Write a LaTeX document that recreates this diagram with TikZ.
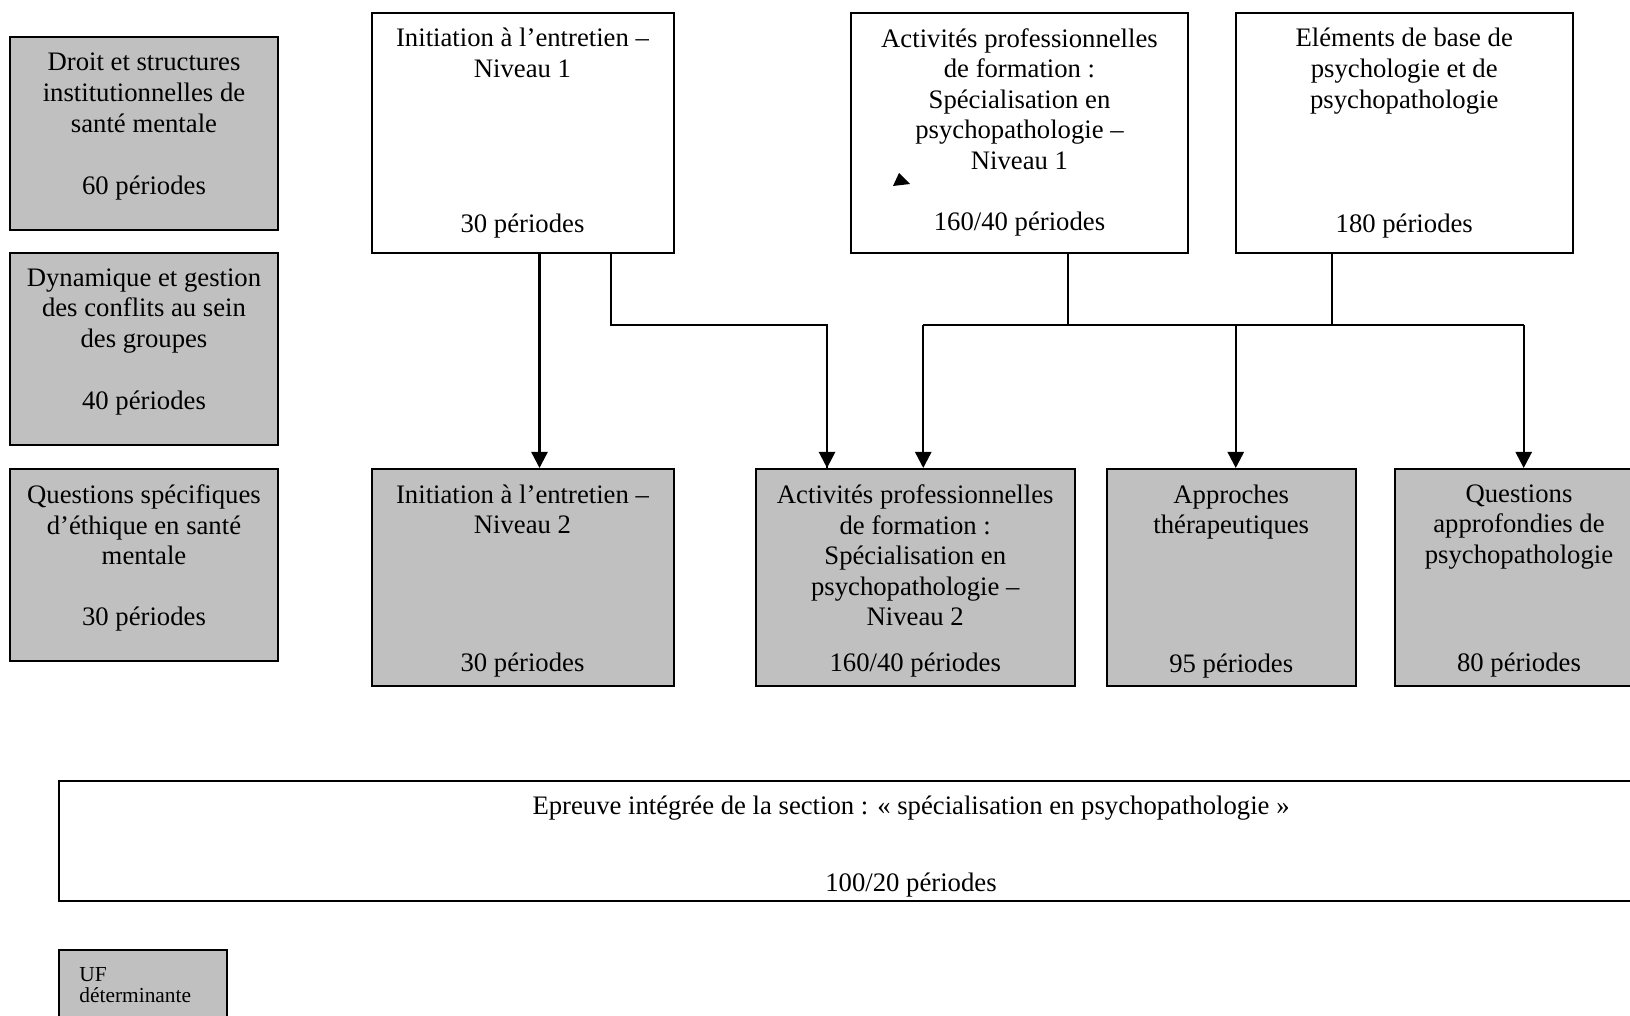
\documentclass[tikz,border=0pt]{standalone}
\usepackage{fontspec}
\setmainfont{Liberation Serif}
\usetikzlibrary{arrows.meta}
\definecolor{ufgris}{RGB}{192,192,192}
\tikzset{
 uf/.style={draw,line width=1pt,inner sep=0pt},
 ufd/.style={uf,fill=ufgris},
 txt/.style={align=center,inner sep=0pt},
 titre/.style={txt,anchor=north},
 lien/.style={line width=.9pt},
}
\begin{document}
\begin{tikzpicture}[x=.5pt,y=-.5pt,font=\fontsize{13.35}{15.3}\selectfont,>={Triangle[length=8pt,width=8pt]}]
 \useasboundingbox (0,0) rectangle (1630,1016);
 \node[ufd,minimum width=134pt,minimum height=96.5pt] (droit) at (144,133.5) {};
 \node[titre] (droit-t) at (144,52.9) {Droit et structures\\institutionnelles de\\santé mentale};
 \node[txt] (droit-p) at (144,188) {60 périodes};
 \node[ufd,minimum width=134pt,minimum height=96pt] (dyn) at (144,349) {};
 \node[titre] (dyn-t) at (144,268) {Dynamique et gestion\\des conflits au sein\\des groupes};
 \node[txt] (dyn-p) at (144,403) {40 périodes};
 \node[ufd,minimum width=134pt,minimum height=96pt] (ethique) at (144,565) {};
 \node[titre] (ethique-t) at (144,484.3) {Questions spécifiques\\d’éthique en santé\\mentale};
 \node[txt] (ethique-p) at (144,619) {30 périodes};

 \node[uf,minimum width=151pt,minimum height=120pt] (init1) at (522.5,133) {};
 \node[titre] (init1-t) at (522.5,27.9) {Initiation à l’entretien --\\Niveau 1};
 \node[txt] (init1-p) at (522.5,226.5) {30 périodes};
 \node[uf,minimum width=168.5pt,minimum height=120pt] (act1) at (1019.5,133) {};
 \node[titre] (act1-t) at (1019.5,27.9) {Activités professionnelles\\de formation :\\Spécialisation en\\psychopathologie --\\Niveau 1};
 \node[txt] (act1-p) at (1019.5,224.5) {160/40 périodes};
 \node[uf,minimum width=168.25pt,minimum height=120pt] (elem) at (1404.25,133) {};
 \node[titre] (elem-t) at (1404.25,27.9) {Eléments de base de\\psychologie et de\\psychopathologie};
 \node[txt] (elem-p) at (1404.25,226.5) {180 périodes};
 \fill (893,186) -- (910,184) -- (899,173) -- cycle;

 \node[ufd,minimum width=151pt,minimum height=108.5pt] (init2) at (522.5,577.5) {};
 \node[titre] (init2-t) at (522.5,484.3) {Initiation à l’entretien --\\Niveau 2};
 \node[txt] (init2-p) at (522.5,665) {30 périodes};
 \node[ufd,minimum width=159.75pt,minimum height=108.5pt] (act2) at (915.25,577.5) {};
 \node[titre] (act2-t) at (915.25,484.3) {Activités professionnelles\\de formation :\\Spécialisation en\\psychopathologie --\\Niveau 2};
 \node[txt] (act2-p) at (915.25,665) {160/40 périodes};
 \node[ufd,minimum width=124.25pt,minimum height=108.5pt] (appr) at (1231.25,577.5) {};
 \node[titre] (appr-t) at (1231.25,484.3) {Approches\\thérapeutiques};
 \node[txt] (appr-p) at (1231.25,666) {95 périodes};
 \node[ufd,minimum width=124pt,minimum height=108.5pt] (quest) at (1519,577.5) {};
 \node[titre] (quest-t) at (1519,484.3) {Questions\\approfondies de\\psychopathologie};
 \node[txt] (quest-p) at (1519,665) {80 périodes};

 \node[uf,minimum width=852pt,minimum height=60pt] (epreuve) at (911,841) {};
 \node[titre] (epreuve-t) at (911,795.1) {Epreuve intégrée de la section : « spécialisation en psychopathologie »};
 \node[txt] (epreuve-p) at (911,885.5) {100/20 périodes};

 \node[ufd,minimum width=84pt,minimum height=55pt] (legende) at (143,1005) {};
 \node[anchor=north west,align=left,inner sep=0pt,font=\fontsize{10.7}{10.5}\selectfont] (legende-t) at (79,967) {UF\\déterminante};

 \coordinate (rail) at (0,325.3);
 \coordinate (i1a) at ([xshift=8.5pt]init1.south);
 \coordinate (i1b) at ([xshift=44.25pt]init1.south);
 \coordinate (a1b) at ([xshift=24.25pt]act1.south);
 \coordinate (e1b) at ([xshift=-36.1pt]elem.south);
 \coordinate (i2t) at ([xshift=8.5pt]init2.north);
 \coordinate (a2t) at ([xshift=-44.1pt]act2.north);
 \coordinate (a2u) at ([xshift=4pt]act2.north);
 \coordinate (apt) at ([xshift=2.25pt]appr.north);
 \coordinate (qut) at ([xshift=2.35pt]quest.north);
 \draw[->,line width=1.2pt] (i1a) -- (i2t);
 \draw[lien] (i1b) -- (i1b |- rail) -| (a2t);
 \draw[->,line width=1.2pt] (a2t |- rail) -- (a2t);
 \draw[lien] (a1b) -- (a1b |- rail);
 \draw[lien] (e1b) -- (e1b |- rail);
 \draw[lien] (a2u |- rail) -- (qut |- rail);
 \foreach \c in {a2u,apt,qut}{
  \draw[->,line width=1.2pt] (\c |- rail) -- (\c);
 }
\end{tikzpicture}
\end{document}
